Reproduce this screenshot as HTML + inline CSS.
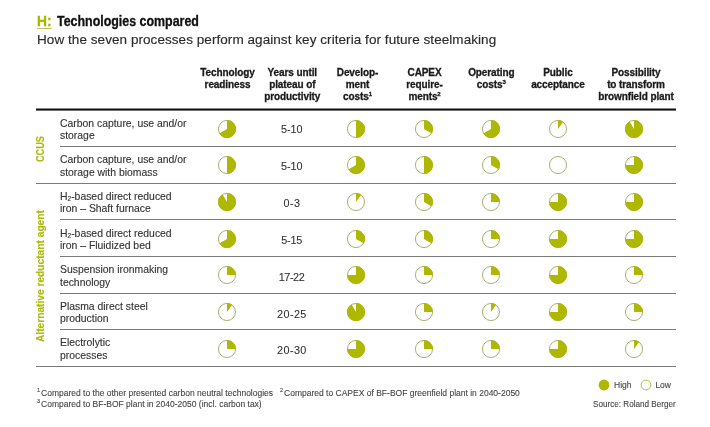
<!DOCTYPE html>
<html><head><meta charset="utf-8"><style>
html,body{margin:0;padding:0;background:#fff;}
body{width:710px;height:427px;position:relative;overflow:hidden;font-family:"Liberation Sans",Arial,sans-serif;}
div,svg{position:absolute;}
.t1{left:37px;top:14.2px;font-size:13.8px;line-height:16px;font-weight:bold;color:#111;white-space:nowrap;transform-origin:0 0;transform:scaleX(0.9);-webkit-text-stroke:0.3px #111;}
div.hh{transform:none;}
.t1 .h{color:#a9b800;-webkit-text-stroke:0.3px #a9b800;text-decoration:underline;text-decoration-color:#bcc45a;text-decoration-thickness:1px;text-underline-offset:2px;}
.t2{left:37px;top:31.5px;font-size:13.5px;line-height:16px;color:#2b2b2b;white-space:nowrap;letter-spacing:0.06px;-webkit-text-stroke:0.15px #2b2b2b;}
.hd{top:67px;width:100px;text-align:center;font-size:10px;line-height:12.2px;font-weight:bold;color:#1b1b1b;letter-spacing:-0.1px;-webkit-text-stroke:0.3px #1b1b1b;}
.hd sup{font-size:6px;line-height:0;vertical-align:4px;}
.thick{left:36px;top:108px;width:640px;height:3px;background:linear-gradient(to bottom, rgba(17,17,17,0.5) 0, rgba(17,17,17,0.5) 1px, #111 1px, #111 2px, rgba(17,17,17,0.6) 2px);}
.ln{height:1px;background:#7a7a7a;}
.lab{left:60px;font-size:10.4px;line-height:12.4px;color:#333;-webkit-text-stroke:0.12px #333;white-space:nowrap;}
.lab sub{font-size:6.5px;line-height:0;vertical-align:-1px;}
.yr{left:261.9px;width:60px;text-align:center;font-size:10.8px;line-height:14px;color:#333;letter-spacing:0.4px;-webkit-text-stroke:0.1px #333;}
.vt{font-weight:bold;color:#abbb0c;font-size:10.2px;line-height:12px;white-space:nowrap;transform-origin:0 0;transform:rotate(-90deg);-webkit-text-stroke:0.15px #abbb0c;}
.fn{left:37px;font-size:8.5px;line-height:11.3px;color:#444;-webkit-text-stroke:0.1px #444;white-space:nowrap;}
.fn sup{font-size:5.5px;line-height:0;vertical-align:3.5px;margin-right:1px;}
</style></head><body>
<div class="t1 hh"><span class="h">H:</span></div><div class="t1" style="left:57.3px">Technologies compared</div>
<div class="t2">How the seven processes perform against key criteria for future steelmaking</div>
<div class="hd" style="left:177.50px">Technology<br>readiness</div><div class="hd" style="left:242.30px">Years until<br>plateau of<br>productivity</div><div class="hd" style="left:307.50px">Develop-<br>ment<br>costs<sup>1</sup></div><div class="hd" style="left:374.50px">CAPEX<br>require-<br>ments<sup>2</sup></div><div class="hd" style="left:441.30px">Operating<br>costs<sup>3</sup></div><div class="hd" style="left:507.90px">Public<br>acceptance</div><div class="hd" style="left:586.00px">Possibility<br>to transform<br>brownfield plant</div>
<div class="thick"></div>
<div class="lab" style="top:117.85px">Carbon capture, use and/or<br>storage</div><div class="yr" style="top:122.15px;letter-spacing:-0.05px;left:261.68px">5-10</div><svg class="b" style="left:217.20px;top:118.95px" width="20.0" height="20.0" viewBox="0 0 20.0 20.0"><circle cx="10.0" cy="10.0" r="8.55" fill="#fff" stroke="#a9b072" stroke-width="1"/><path d="M10.0,10.0 L10.0,1.0 A9.0,9.0 0 1 1 2.21,14.50 Z" fill="#afb800"/></svg><svg class="b" style="left:346.00px;top:118.95px" width="20.0" height="20.0" viewBox="0 0 20.0 20.0"><circle cx="10.0" cy="10.0" r="8.55" fill="#fff" stroke="#a9b072" stroke-width="1"/><path d="M10.0,10.0 L10.0,1.0 A9.0,9.0 0 0 1 10.00,19.00 Z" fill="#afb800"/></svg><svg class="b" style="left:414.40px;top:118.95px" width="20.0" height="20.0" viewBox="0 0 20.0 20.0"><circle cx="10.0" cy="10.0" r="8.55" fill="#fff" stroke="#a9b072" stroke-width="1"/><path d="M10.0,10.0 L10.0,1.0 A9.0,9.0 0 0 1 17.79,14.50 Z" fill="#afb800"/></svg><svg class="b" style="left:481.30px;top:118.95px" width="20.0" height="20.0" viewBox="0 0 20.0 20.0"><circle cx="10.0" cy="10.0" r="8.55" fill="#fff" stroke="#a9b072" stroke-width="1"/><path d="M10.0,10.0 L10.0,1.0 A9.0,9.0 0 1 1 2.21,14.50 Z" fill="#afb800"/></svg><svg class="b" style="left:548.00px;top:118.95px" width="20.0" height="20.0" viewBox="0 0 20.0 20.0"><circle cx="10.0" cy="10.0" r="8.55" fill="#fff" stroke="#a9b072" stroke-width="1"/><path d="M10.0,10.0 L10.0,1.0 A9.0,9.0 0 0 1 15.29,2.72 Z" fill="#afb800"/></svg><svg class="b" style="left:623.50px;top:118.95px" width="20.0" height="20.0" viewBox="0 0 20.0 20.0"><circle cx="10.0" cy="10.0" r="8.55" fill="#fff" stroke="#a9b072" stroke-width="1"/><path d="M10.0,10.0 L10.0,1.0 A9.0,9.0 0 1 1 5.50,2.21 Z" fill="#afb800"/></svg><div class="lab" style="top:154.23px">Carbon capture, use and/or<br>storage with biomass</div><div class="yr" style="top:159.02px;letter-spacing:-0.05px;left:261.68px">5-10</div><svg class="b" style="left:217.20px;top:155.33px" width="20.0" height="20.0" viewBox="0 0 20.0 20.0"><circle cx="10.0" cy="10.0" r="8.55" fill="#fff" stroke="#a9b072" stroke-width="1"/><path d="M10.0,10.0 L10.0,1.0 A9.0,9.0 0 0 1 10.00,19.00 Z" fill="#afb800"/></svg><svg class="b" style="left:346.00px;top:155.33px" width="20.0" height="20.0" viewBox="0 0 20.0 20.0"><circle cx="10.0" cy="10.0" r="8.55" fill="#fff" stroke="#a9b072" stroke-width="1"/><path d="M10.0,10.0 L10.0,1.0 A9.0,9.0 0 1 1 2.21,14.50 Z" fill="#afb800"/></svg><svg class="b" style="left:414.40px;top:155.33px" width="20.0" height="20.0" viewBox="0 0 20.0 20.0"><circle cx="10.0" cy="10.0" r="8.55" fill="#fff" stroke="#a9b072" stroke-width="1"/><path d="M10.0,10.0 L10.0,1.0 A9.0,9.0 0 0 1 10.00,19.00 Z" fill="#afb800"/></svg><svg class="b" style="left:481.30px;top:155.33px" width="20.0" height="20.0" viewBox="0 0 20.0 20.0"><circle cx="10.0" cy="10.0" r="8.55" fill="#fff" stroke="#a9b072" stroke-width="1"/><path d="M10.0,10.0 L10.0,1.0 A9.0,9.0 0 0 1 17.79,14.50 Z" fill="#afb800"/></svg><svg class="b" style="left:548.00px;top:155.33px" width="20.0" height="20.0" viewBox="0 0 20.0 20.0"><circle cx="10.0" cy="10.0" r="8.55" fill="#fff" stroke="#a9b072" stroke-width="1"/></svg><svg class="b" style="left:623.50px;top:155.33px" width="20.0" height="20.0" viewBox="0 0 20.0 20.0"><circle cx="10.0" cy="10.0" r="8.55" fill="#fff" stroke="#a9b072" stroke-width="1"/><path d="M10.0,10.0 L10.0,1.0 A9.0,9.0 0 1 1 1.00,10.00 Z" fill="#afb800"/></svg><div class="lab" style="top:190.88px">H<sub>2</sub>-based direct reduced<br>iron – Shaft furnace</div><div class="yr" style="top:195.89px;letter-spacing:0.4px;left:261.90px">0-3</div><svg class="b" style="left:217.20px;top:191.97px" width="20.0" height="20.0" viewBox="0 0 20.0 20.0"><circle cx="10.0" cy="10.0" r="8.55" fill="#fff" stroke="#a9b072" stroke-width="1"/><path d="M10.0,10.0 L10.0,1.0 A9.0,9.0 0 1 1 5.50,2.21 Z" fill="#afb800"/></svg><svg class="b" style="left:346.00px;top:191.97px" width="20.0" height="20.0" viewBox="0 0 20.0 20.0"><circle cx="10.0" cy="10.0" r="8.55" fill="#fff" stroke="#a9b072" stroke-width="1"/><path d="M10.0,10.0 L10.0,1.0 A9.0,9.0 0 0 1 15.29,2.72 Z" fill="#afb800"/></svg><svg class="b" style="left:414.40px;top:191.97px" width="20.0" height="20.0" viewBox="0 0 20.0 20.0"><circle cx="10.0" cy="10.0" r="8.55" fill="#fff" stroke="#a9b072" stroke-width="1"/><path d="M10.0,10.0 L10.0,1.0 A9.0,9.0 0 0 1 17.79,14.50 Z" fill="#afb800"/></svg><svg class="b" style="left:481.30px;top:191.97px" width="20.0" height="20.0" viewBox="0 0 20.0 20.0"><circle cx="10.0" cy="10.0" r="8.55" fill="#fff" stroke="#a9b072" stroke-width="1"/><path d="M10.0,10.0 L10.0,1.0 A9.0,9.0 0 0 1 19.00,10.00 Z" fill="#afb800"/></svg><svg class="b" style="left:548.00px;top:191.97px" width="20.0" height="20.0" viewBox="0 0 20.0 20.0"><circle cx="10.0" cy="10.0" r="8.55" fill="#fff" stroke="#a9b072" stroke-width="1"/><path d="M10.0,10.0 L10.0,1.0 A9.0,9.0 0 1 1 1.00,10.00 Z" fill="#afb800"/></svg><svg class="b" style="left:623.50px;top:191.97px" width="20.0" height="20.0" viewBox="0 0 20.0 20.0"><circle cx="10.0" cy="10.0" r="8.55" fill="#fff" stroke="#a9b072" stroke-width="1"/><path d="M10.0,10.0 L10.0,1.0 A9.0,9.0 0 1 1 1.00,10.00 Z" fill="#afb800"/></svg><div class="lab" style="top:227.52px">H<sub>2</sub>-based direct reduced<br>iron – Fluidized bed</div><div class="yr" style="top:232.76px;letter-spacing:-0.2px;left:261.60px">5-15</div><svg class="b" style="left:217.20px;top:228.62px" width="20.0" height="20.0" viewBox="0 0 20.0 20.0"><circle cx="10.0" cy="10.0" r="8.55" fill="#fff" stroke="#a9b072" stroke-width="1"/><path d="M10.0,10.0 L10.0,1.0 A9.0,9.0 0 1 1 2.21,14.50 Z" fill="#afb800"/></svg><svg class="b" style="left:346.00px;top:228.62px" width="20.0" height="20.0" viewBox="0 0 20.0 20.0"><circle cx="10.0" cy="10.0" r="8.55" fill="#fff" stroke="#a9b072" stroke-width="1"/><path d="M10.0,10.0 L10.0,1.0 A9.0,9.0 0 0 1 17.79,14.50 Z" fill="#afb800"/></svg><svg class="b" style="left:414.40px;top:228.62px" width="20.0" height="20.0" viewBox="0 0 20.0 20.0"><circle cx="10.0" cy="10.0" r="8.55" fill="#fff" stroke="#a9b072" stroke-width="1"/><path d="M10.0,10.0 L10.0,1.0 A9.0,9.0 0 0 1 17.79,14.50 Z" fill="#afb800"/></svg><svg class="b" style="left:481.30px;top:228.62px" width="20.0" height="20.0" viewBox="0 0 20.0 20.0"><circle cx="10.0" cy="10.0" r="8.55" fill="#fff" stroke="#a9b072" stroke-width="1"/><path d="M10.0,10.0 L10.0,1.0 A9.0,9.0 0 0 1 19.00,10.00 Z" fill="#afb800"/></svg><svg class="b" style="left:548.00px;top:228.62px" width="20.0" height="20.0" viewBox="0 0 20.0 20.0"><circle cx="10.0" cy="10.0" r="8.55" fill="#fff" stroke="#a9b072" stroke-width="1"/><path d="M10.0,10.0 L10.0,1.0 A9.0,9.0 0 1 1 1.00,10.00 Z" fill="#afb800"/></svg><svg class="b" style="left:623.50px;top:228.62px" width="20.0" height="20.0" viewBox="0 0 20.0 20.0"><circle cx="10.0" cy="10.0" r="8.55" fill="#fff" stroke="#a9b072" stroke-width="1"/><path d="M10.0,10.0 L10.0,1.0 A9.0,9.0 0 1 1 1.00,10.00 Z" fill="#afb800"/></svg><div class="lab" style="top:264.18px">Suspension ironmaking<br>technology</div><div class="yr" style="top:269.63px;letter-spacing:-0.4px;left:261.50px">17-22</div><svg class="b" style="left:217.20px;top:265.27px" width="20.0" height="20.0" viewBox="0 0 20.0 20.0"><circle cx="10.0" cy="10.0" r="8.55" fill="#fff" stroke="#a9b072" stroke-width="1"/><path d="M10.0,10.0 L10.0,1.0 A9.0,9.0 0 0 1 19.00,10.00 Z" fill="#afb800"/></svg><svg class="b" style="left:346.00px;top:265.27px" width="20.0" height="20.0" viewBox="0 0 20.0 20.0"><circle cx="10.0" cy="10.0" r="8.55" fill="#fff" stroke="#a9b072" stroke-width="1"/><path d="M10.0,10.0 L10.0,1.0 A9.0,9.0 0 1 1 1.00,10.00 Z" fill="#afb800"/></svg><svg class="b" style="left:414.40px;top:265.27px" width="20.0" height="20.0" viewBox="0 0 20.0 20.0"><circle cx="10.0" cy="10.0" r="8.55" fill="#fff" stroke="#a9b072" stroke-width="1"/><path d="M10.0,10.0 L10.0,1.0 A9.0,9.0 0 0 1 19.00,10.00 Z" fill="#afb800"/></svg><svg class="b" style="left:481.30px;top:265.27px" width="20.0" height="20.0" viewBox="0 0 20.0 20.0"><circle cx="10.0" cy="10.0" r="8.55" fill="#fff" stroke="#a9b072" stroke-width="1"/><path d="M10.0,10.0 L10.0,1.0 A9.0,9.0 0 0 1 19.00,10.00 Z" fill="#afb800"/></svg><svg class="b" style="left:548.00px;top:265.27px" width="20.0" height="20.0" viewBox="0 0 20.0 20.0"><circle cx="10.0" cy="10.0" r="8.55" fill="#fff" stroke="#a9b072" stroke-width="1"/><path d="M10.0,10.0 L10.0,1.0 A9.0,9.0 0 1 1 1.00,10.00 Z" fill="#afb800"/></svg><svg class="b" style="left:623.50px;top:265.27px" width="20.0" height="20.0" viewBox="0 0 20.0 20.0"><circle cx="10.0" cy="10.0" r="8.55" fill="#fff" stroke="#a9b072" stroke-width="1"/><path d="M10.0,10.0 L10.0,1.0 A9.0,9.0 0 0 1 19.00,10.00 Z" fill="#afb800"/></svg><div class="lab" style="top:300.82px">Plasma direct steel<br>production</div><div class="yr" style="top:306.50px;letter-spacing:0.4px;left:261.90px">20-25</div><svg class="b" style="left:217.20px;top:301.92px" width="20.0" height="20.0" viewBox="0 0 20.0 20.0"><circle cx="10.0" cy="10.0" r="8.55" fill="#fff" stroke="#a9b072" stroke-width="1"/><path d="M10.0,10.0 L10.0,1.0 A9.0,9.0 0 0 1 15.29,2.72 Z" fill="#afb800"/></svg><svg class="b" style="left:346.00px;top:301.92px" width="20.0" height="20.0" viewBox="0 0 20.0 20.0"><circle cx="10.0" cy="10.0" r="8.55" fill="#fff" stroke="#a9b072" stroke-width="1"/><path d="M10.0,10.0 L10.0,1.0 A9.0,9.0 0 1 1 5.50,2.21 Z" fill="#afb800"/></svg><svg class="b" style="left:414.40px;top:301.92px" width="20.0" height="20.0" viewBox="0 0 20.0 20.0"><circle cx="10.0" cy="10.0" r="8.55" fill="#fff" stroke="#a9b072" stroke-width="1"/><path d="M10.0,10.0 L10.0,1.0 A9.0,9.0 0 0 1 19.00,10.00 Z" fill="#afb800"/></svg><svg class="b" style="left:481.30px;top:301.92px" width="20.0" height="20.0" viewBox="0 0 20.0 20.0"><circle cx="10.0" cy="10.0" r="8.55" fill="#fff" stroke="#a9b072" stroke-width="1"/><path d="M10.0,10.0 L10.0,1.0 A9.0,9.0 0 0 1 15.29,2.72 Z" fill="#afb800"/></svg><svg class="b" style="left:548.00px;top:301.92px" width="20.0" height="20.0" viewBox="0 0 20.0 20.0"><circle cx="10.0" cy="10.0" r="8.55" fill="#fff" stroke="#a9b072" stroke-width="1"/><path d="M10.0,10.0 L10.0,1.0 A9.0,9.0 0 1 1 1.00,10.00 Z" fill="#afb800"/></svg><svg class="b" style="left:623.50px;top:301.92px" width="20.0" height="20.0" viewBox="0 0 20.0 20.0"><circle cx="10.0" cy="10.0" r="8.55" fill="#fff" stroke="#a9b072" stroke-width="1"/><path d="M10.0,10.0 L10.0,1.0 A9.0,9.0 0 0 1 19.00,10.00 Z" fill="#afb800"/></svg><div class="lab" style="top:337.48px">Electrolytic<br>processes</div><div class="yr" style="top:343.37px;letter-spacing:0.4px;left:261.90px">20-30</div><svg class="b" style="left:217.20px;top:338.57px" width="20.0" height="20.0" viewBox="0 0 20.0 20.0"><circle cx="10.0" cy="10.0" r="8.55" fill="#fff" stroke="#a9b072" stroke-width="1"/><path d="M10.0,10.0 L10.0,1.0 A9.0,9.0 0 0 1 19.00,10.00 Z" fill="#afb800"/></svg><svg class="b" style="left:346.00px;top:338.57px" width="20.0" height="20.0" viewBox="0 0 20.0 20.0"><circle cx="10.0" cy="10.0" r="8.55" fill="#fff" stroke="#a9b072" stroke-width="1"/><path d="M10.0,10.0 L10.0,1.0 A9.0,9.0 0 1 1 1.00,10.00 Z" fill="#afb800"/></svg><svg class="b" style="left:414.40px;top:338.57px" width="20.0" height="20.0" viewBox="0 0 20.0 20.0"><circle cx="10.0" cy="10.0" r="8.55" fill="#fff" stroke="#a9b072" stroke-width="1"/><path d="M10.0,10.0 L10.0,1.0 A9.0,9.0 0 0 1 19.00,10.00 Z" fill="#afb800"/></svg><svg class="b" style="left:481.30px;top:338.57px" width="20.0" height="20.0" viewBox="0 0 20.0 20.0"><circle cx="10.0" cy="10.0" r="8.55" fill="#fff" stroke="#a9b072" stroke-width="1"/><path d="M10.0,10.0 L10.0,1.0 A9.0,9.0 0 0 1 19.00,10.00 Z" fill="#afb800"/></svg><svg class="b" style="left:548.00px;top:338.57px" width="20.0" height="20.0" viewBox="0 0 20.0 20.0"><circle cx="10.0" cy="10.0" r="8.55" fill="#fff" stroke="#a9b072" stroke-width="1"/><path d="M10.0,10.0 L10.0,1.0 A9.0,9.0 0 1 1 1.00,10.00 Z" fill="#afb800"/></svg><svg class="b" style="left:623.50px;top:338.57px" width="20.0" height="20.0" viewBox="0 0 20.0 20.0"><circle cx="10.0" cy="10.0" r="8.55" fill="#fff" stroke="#a9b072" stroke-width="1"/><path d="M10.0,10.0 L10.0,1.0 A9.0,9.0 0 0 1 15.29,2.72 Z" fill="#afb800"/></svg><div class="ln" style="left:60px;top:146.10px;width:616px"></div><div class="ln" style="left:36px;top:182.75px;width:640px"></div><div class="ln" style="left:60px;top:219.40px;width:616px"></div><div class="ln" style="left:60px;top:256.05px;width:616px"></div><div class="ln" style="left:60px;top:292.70px;width:616px"></div><div class="ln" style="left:60px;top:329.35px;width:616px"></div><div class="ln" style="left:36px;top:366.00px;width:640px"></div>
<div class="vt" style="left:35px;top:161.6px;font-size:10.3px;transform:rotate(-90deg) scaleX(0.89);">CCUS</div>
<div class="vt" style="left:35px;top:342.4px;">Alternative reductant agent</div>
<div class="fn" style="top:387.7px"><sup>1</sup>Compared to the other presented carbon neutral technologies</div>
<div class="fn" style="top:387.7px;left:280px"><sup>2</sup>Compared to CAPEX of BF-BOF greenfield plant in 2040-2050</div>
<div class="fn" style="top:398.9px"><sup>3</sup>Compared to BF-BOF plant in 2040-2050 (incl. carbon tax)</div>
<svg style="left:598px;top:379px" width="12" height="12"><circle cx="6" cy="6" r="5.4" fill="#afb800"/></svg>
<div class="fn" style="left:614px;top:380.3px">High</div>
<svg style="left:640px;top:379px" width="12" height="12"><circle cx="6" cy="6" r="4.9" fill="#fff" stroke="#b5c040" stroke-width="1"/></svg>
<div class="fn" style="left:655.4px;top:380.3px">Low</div>
<div class="fn" style="left:593px;top:398.8px;font-size:8.15px">Source: Roland Berger</div>
</body></html>
